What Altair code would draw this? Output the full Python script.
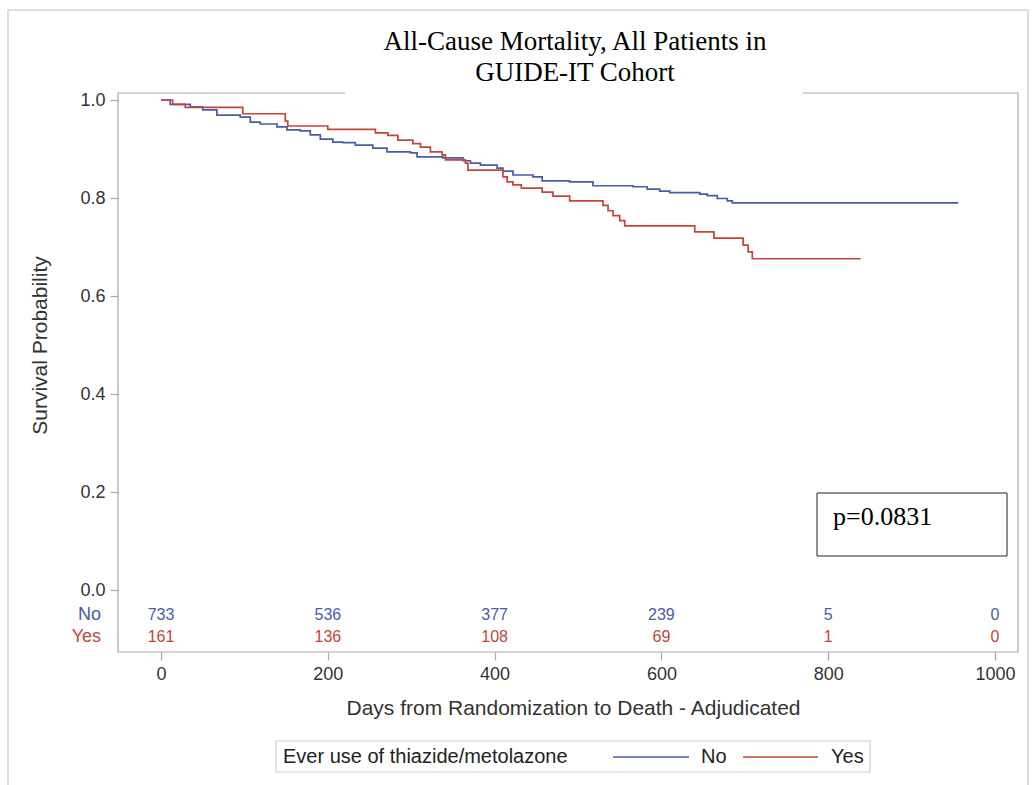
import altair as alt
import pandas as pd

# ---------------- data ----------------
no_days = [0, 11, 35, 50, 67, 95, 107, 119, 139, 151, 167, 179, 191, 206, 218, 233, 254, 271, 299, 307,
           338, 362, 371, 383, 403, 410, 422, 446, 457, 490, 518, 566, 583, 598, 610, 646, 655, 667, 679, 685, 956]
no_surv = [1.0, 0.991, 0.986, 0.980, 0.969, 0.965, 0.955, 0.951, 0.945, 0.939, 0.937, 0.929, 0.920, 0.914,
           0.913, 0.908, 0.902, 0.894, 0.892, 0.884, 0.882, 0.876, 0.871, 0.867, 0.861, 0.855, 0.847, 0.843,
           0.835, 0.833, 0.825, 0.823, 0.818, 0.814, 0.811, 0.808, 0.805, 0.799, 0.794, 0.790, 0.790]

yes_days = [0, 14, 29, 98, 149, 152, 200, 257, 272, 284, 302, 311, 323, 337, 341, 365, 368, 410, 415, 422,
            432, 457, 470, 490, 530, 536, 542, 550, 556, 640, 663, 698, 704, 709, 839]
yes_surv = [1.0, 0.991, 0.985, 0.972, 0.957, 0.947, 0.940, 0.933, 0.928, 0.918, 0.911, 0.904, 0.894, 0.888,
            0.878, 0.871, 0.857, 0.843, 0.833, 0.827, 0.820, 0.812, 0.804, 0.794, 0.785, 0.774, 0.764, 0.754,
            0.743, 0.731, 0.718, 0.704, 0.690, 0.676, 0.676]

risk_days = [0, 200, 400, 600, 800, 1000]
risk_no = [733, 536, 377, 239, 5, 0]
risk_yes = [161, 136, 108, 69, 1, 0]

groups = ["No", "Yes"]
x_ticks = [0, 200, 400, 600, 800, 1000]
y_ticks = [0.0, 0.2, 0.4, 0.6, 0.8, 1.0]
title_text = "All-Cause Mortality, All Patients in\nGUIDE-IT Cohort"
legend_title = "Ever use of thiazide/metolazone"
p_text = "p=0.0831"

# ---------------- styling ----------------
BLUE = "#4b5ba7"
RED = "#c2463a"
FRAME = "#a8a8a8"
SANS = "Liberation Sans, Arial, sans-serif"
SERIF = "Liberation Serif, Times New Roman, serif"
W, H = 900, 559

curves = pd.concat([
    pd.DataFrame({"day": no_days, "surv": no_surv, "group": "No"}),
    pd.DataFrame({"day": yes_days, "surv": yes_surv, "group": "Yes"}),
], ignore_index=True)
risk = pd.DataFrame({"day": risk_days, "no": risk_no, "yes": risk_yes})
one = alt.Data(values=[{}])


def label(text, **kw):
    return alt.Chart(pd.DataFrame({"t": [text]})).mark_text(**kw)


xscale = alt.Scale(domain=[-51.6, 1027.6], nice=False, zero=False)
yscale = alt.Scale(domain=[-0.1265, 1.0143], nice=False, zero=False)

lines = alt.Chart(curves).mark_line(interpolate="step-after", strokeWidth=1.7).encode(
    x=alt.X("day:Q", scale=xscale,
            axis=alt.Axis(values=x_ticks, format="d",
                          title="Days from Randomization to Death - Adjudicated",
                          titleX=455, titleY=56, titleBaseline="middle")),
    y=alt.Y("surv:Q", scale=yscale,
            axis=alt.Axis(values=y_ticks, format=".1f", title="Survival Probability",
                          titleX=-78, titleY=252, titleBaseline="middle")),
    color=alt.Color("group:N", scale=alt.Scale(domain=groups, range=[BLUE, RED]), legend=None),
)

outer = alt.Chart(one).mark_rect(fill=None, stroke="#d2d2d2", strokeWidth=1.5).encode(
    x=alt.value(-110), x2=alt.value(910), y=alt.value(-83), y2=alt.value(720))

frame = alt.Chart(one).mark_rect(fill=None, stroke=FRAME, strokeWidth=1.2).encode(
    x=alt.value(0), x2=alt.value(W), y=alt.value(0), y2=alt.value(H))

title_cover = alt.Chart(one).mark_rect(fill="white").encode(
    x=alt.value(227), x2=alt.value(685), y=alt.value(-3), y2=alt.value(2))

title = label(title_text, font=SERIF, fontSize=27, color="black", align="center",
              baseline="alphabetic", lineBreak="\n", lineHeight=31).encode(
    x=alt.value(457), y=alt.value(-43), text="t:N")

risk_no_txt = alt.Chart(risk).mark_text(color=BLUE, fontSize=16, font=SANS).encode(
    x=alt.X("day:Q", scale=xscale), y=alt.value(522), text="no:Q")
risk_yes_txt = alt.Chart(risk).mark_text(color=RED, fontSize=16, font=SANS).encode(
    x=alt.X("day:Q", scale=xscale), y=alt.value(544), text="yes:Q")

lab_no = label(groups[0], color=BLUE, fontSize=18, font=SANS, align="right").encode(
    x=alt.value(-17), y=alt.value(522), text="t:N")
lab_yes = label(groups[1], color=RED, fontSize=18, font=SANS, align="right").encode(
    x=alt.value(-17), y=alt.value(544), text="t:N")

pbox = alt.Chart(one).mark_rect(fill="white", stroke="#222", strokeWidth=1).encode(
    x=alt.value(699), x2=alt.value(889), y=alt.value(400), y2=alt.value(463))
ptext = label(p_text, font=SERIF, fontSize=26, align="left", baseline="alphabetic",
              color="black").encode(x=alt.value(715), y=alt.value(432), text="t:N")

# ---- legend (drawn box, title, line swatches and labels) ----
leg_box = alt.Chart(one).mark_rect(fill="white", stroke="#cfcfcf", strokeWidth=1.2).encode(
    x=alt.value(158), x2=alt.value(752), y=alt.value(648), y2=alt.value(679))
leg_title = label(legend_title, font=SANS, fontSize=20, color="#222", align="left").encode(
    x=alt.value(165), y=alt.value(664), text="t:N")
leg_line_no = alt.Chart(one).mark_rule(color=BLUE, strokeWidth=1.6).encode(
    x=alt.value(495), x2=alt.value(571), y=alt.value(664))
leg_lab_no = label(groups[0], font=SANS, fontSize=20, color="#222", align="left").encode(
    x=alt.value(583), y=alt.value(664), text="t:N")
leg_line_yes = alt.Chart(one).mark_rule(color=RED, strokeWidth=1.6).encode(
    x=alt.value(625), x2=alt.value(700), y=alt.value(664))
leg_lab_yes = label(groups[1], font=SANS, fontSize=20, color="#222", align="left").encode(
    x=alt.value(713), y=alt.value(664), text="t:N")

chart = alt.layer(
    lines, outer, frame, title_cover, title, risk_no_txt, risk_yes_txt, lab_no, lab_yes,
    pbox, ptext, leg_box, leg_title, leg_line_no, leg_lab_no, leg_line_yes, leg_lab_yes
).properties(
    width=W, height=H,
    autosize=alt.AutoSizeParams(type="none"),
    padding={"left": 118, "top": 93, "right": 18, "bottom": 133},
    background="white",
).configure_view(
    stroke=None
).configure_axis(
    domain=False, grid=False, tickColor=FRAME, tickSize=8, tickWidth=1.2,
    labelFont=SANS, labelFontSize=18, labelColor="#333", labelPadding=5,
    titleFont=SANS, titleFontSize=21, titleFontWeight="normal", titleColor="#333"
)

chart.save("out.html", embed_options={"renderer": "svg", "actions": False})
